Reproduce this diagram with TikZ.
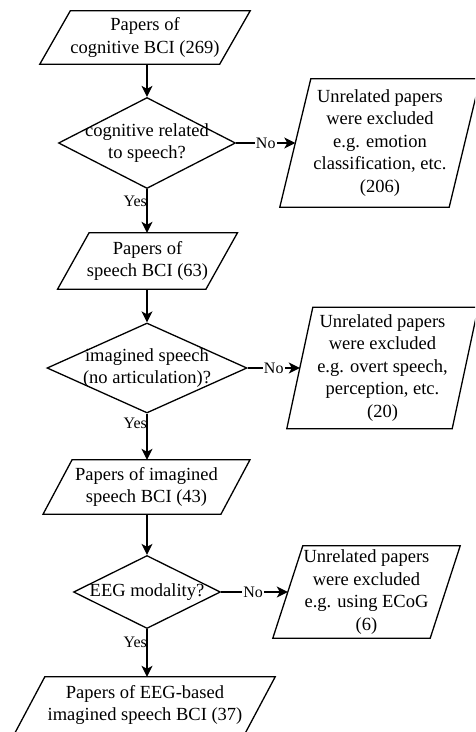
\documentclass[tikz,border=0pt]{standalone}
\usepackage{fontspec}
\setmainfont{Liberation Serif}
\usetikzlibrary{shapes.geometric,arrows.meta,calc}
\tikzset{
  txt/.style={inner sep=0pt, align=center, font=\fontsize{18.5}{22.5}\selectfont},
  shapeline/.style={draw=black, line width=1.3pt, line join=miter},
  dia/.style={diamond, shapeline, inner sep=0pt},
  arr/.style={line width=1.3pt, -{Stealth[length=11pt,width=11pt,inset=3pt]}},
  lbl/.style={inner sep=1pt, font=\fontsize{16}{18}\selectfont},
}
% #1 name, #2 cx, #3 cy, #4 edge length, #5 height, #6 slant, #7 text
\newcommand\parabox[7]{%
  \node[txt, minimum width=#4pt, minimum height=#5pt] (#1) at (#2,#3) {#7};
  \draw[shapeline] ($(#1.south west)+(-#6/2,0)$) -- ($(#1.south east)+(-#6/2,0)$)
    -- ($(#1.north east)+(#6/2,0)$) -- ($(#1.north west)+(#6/2,0)$) -- cycle;
}
\begin{document}
\begin{tikzpicture}[x=1pt,y=-1pt]
\clip (0,0) rectangle (475,732);
\fill[white] (0,0) rectangle (475,732);

% main column
\parabox{b1}{145}{37.5}{179.5}{53}{30.5}{Papers of\\cognitive BCI (269)}
\node[dia, minimum width=177pt, minimum height=91pt] (d1) at (147,143) {};
\node[txt] (d1t) at (d1.center) {cognitive related\\to speech?};

\parabox{b2}{147.5}{261}{148}{56}{31.5}{Papers of\\speech BCI (63)}
\node[dia, minimum width=200pt, minimum height=90pt] (d2) at (147,368) {};
\node[txt] (d2t) at (d2.center) {imagined speech\\(no articulation)?};

\parabox{b3}{146.5}{487}{177.5}{54}{29}{Papers of imagined\\speech BCI (43)}
\node[dia, minimum width=147pt, minimum height=73pt] (d3) at (147,592) {};
\node[txt] (d3t) at (d3.center) {EEG modality?};

\parabox{b4}{145}{705}{230}{56}{30}{Papers of EEG-based\\imagined speech BCI (37)}

% exclusion boxes
\parabox{e1}{380}{143}{169}{128}{31}{Unrelated papers\\were excluded\\e.g. emotion\\classification, etc.\\(206)}
\parabox{e2}{382.5}{368}{165}{121}{26}{Unrelated papers\\were excluded\\e.g. overt speech,\\perception, etc.\\(20)}
\parabox{e3}{366.5}{592}{157}{92}{30}{Unrelated papers\\were excluded\\e.g. using ECoG\\(6)}

% connectors
\draw[arr] (d1.north |- b1.south) -- (d1.north);
\draw[arr] (d1.south) -- (d1.south |- b2.north)
  node[lbl, pos=0.27, anchor=east, xshift=1.5pt] {Yes};
\draw[arr] (d2.north |- b2.south) -- (d2.north);
\draw[arr] (d2.south) -- (d2.south |- b3.north)
  node[lbl, pos=0.22, anchor=east, xshift=1.5pt] {Yes};
\draw[arr] (d3.north |- b3.south) -- (d3.north);
\draw[arr] (d3.south) -- (d3.south |- b4.north)
  node[lbl, pos=0.28, anchor=east, xshift=1.5pt] {Yes};

\draw[arr] (d1.east) -- (e1.west) node[lbl, pos=0.5, fill=white] {No};
\draw[arr] (d2.east) -- (e2.west) node[lbl, pos=0.5, fill=white] {No};
\draw[arr] (d3.east) -- (e3.west) node[lbl, pos=0.48, fill=white] {No};
\end{tikzpicture}
\end{document}
